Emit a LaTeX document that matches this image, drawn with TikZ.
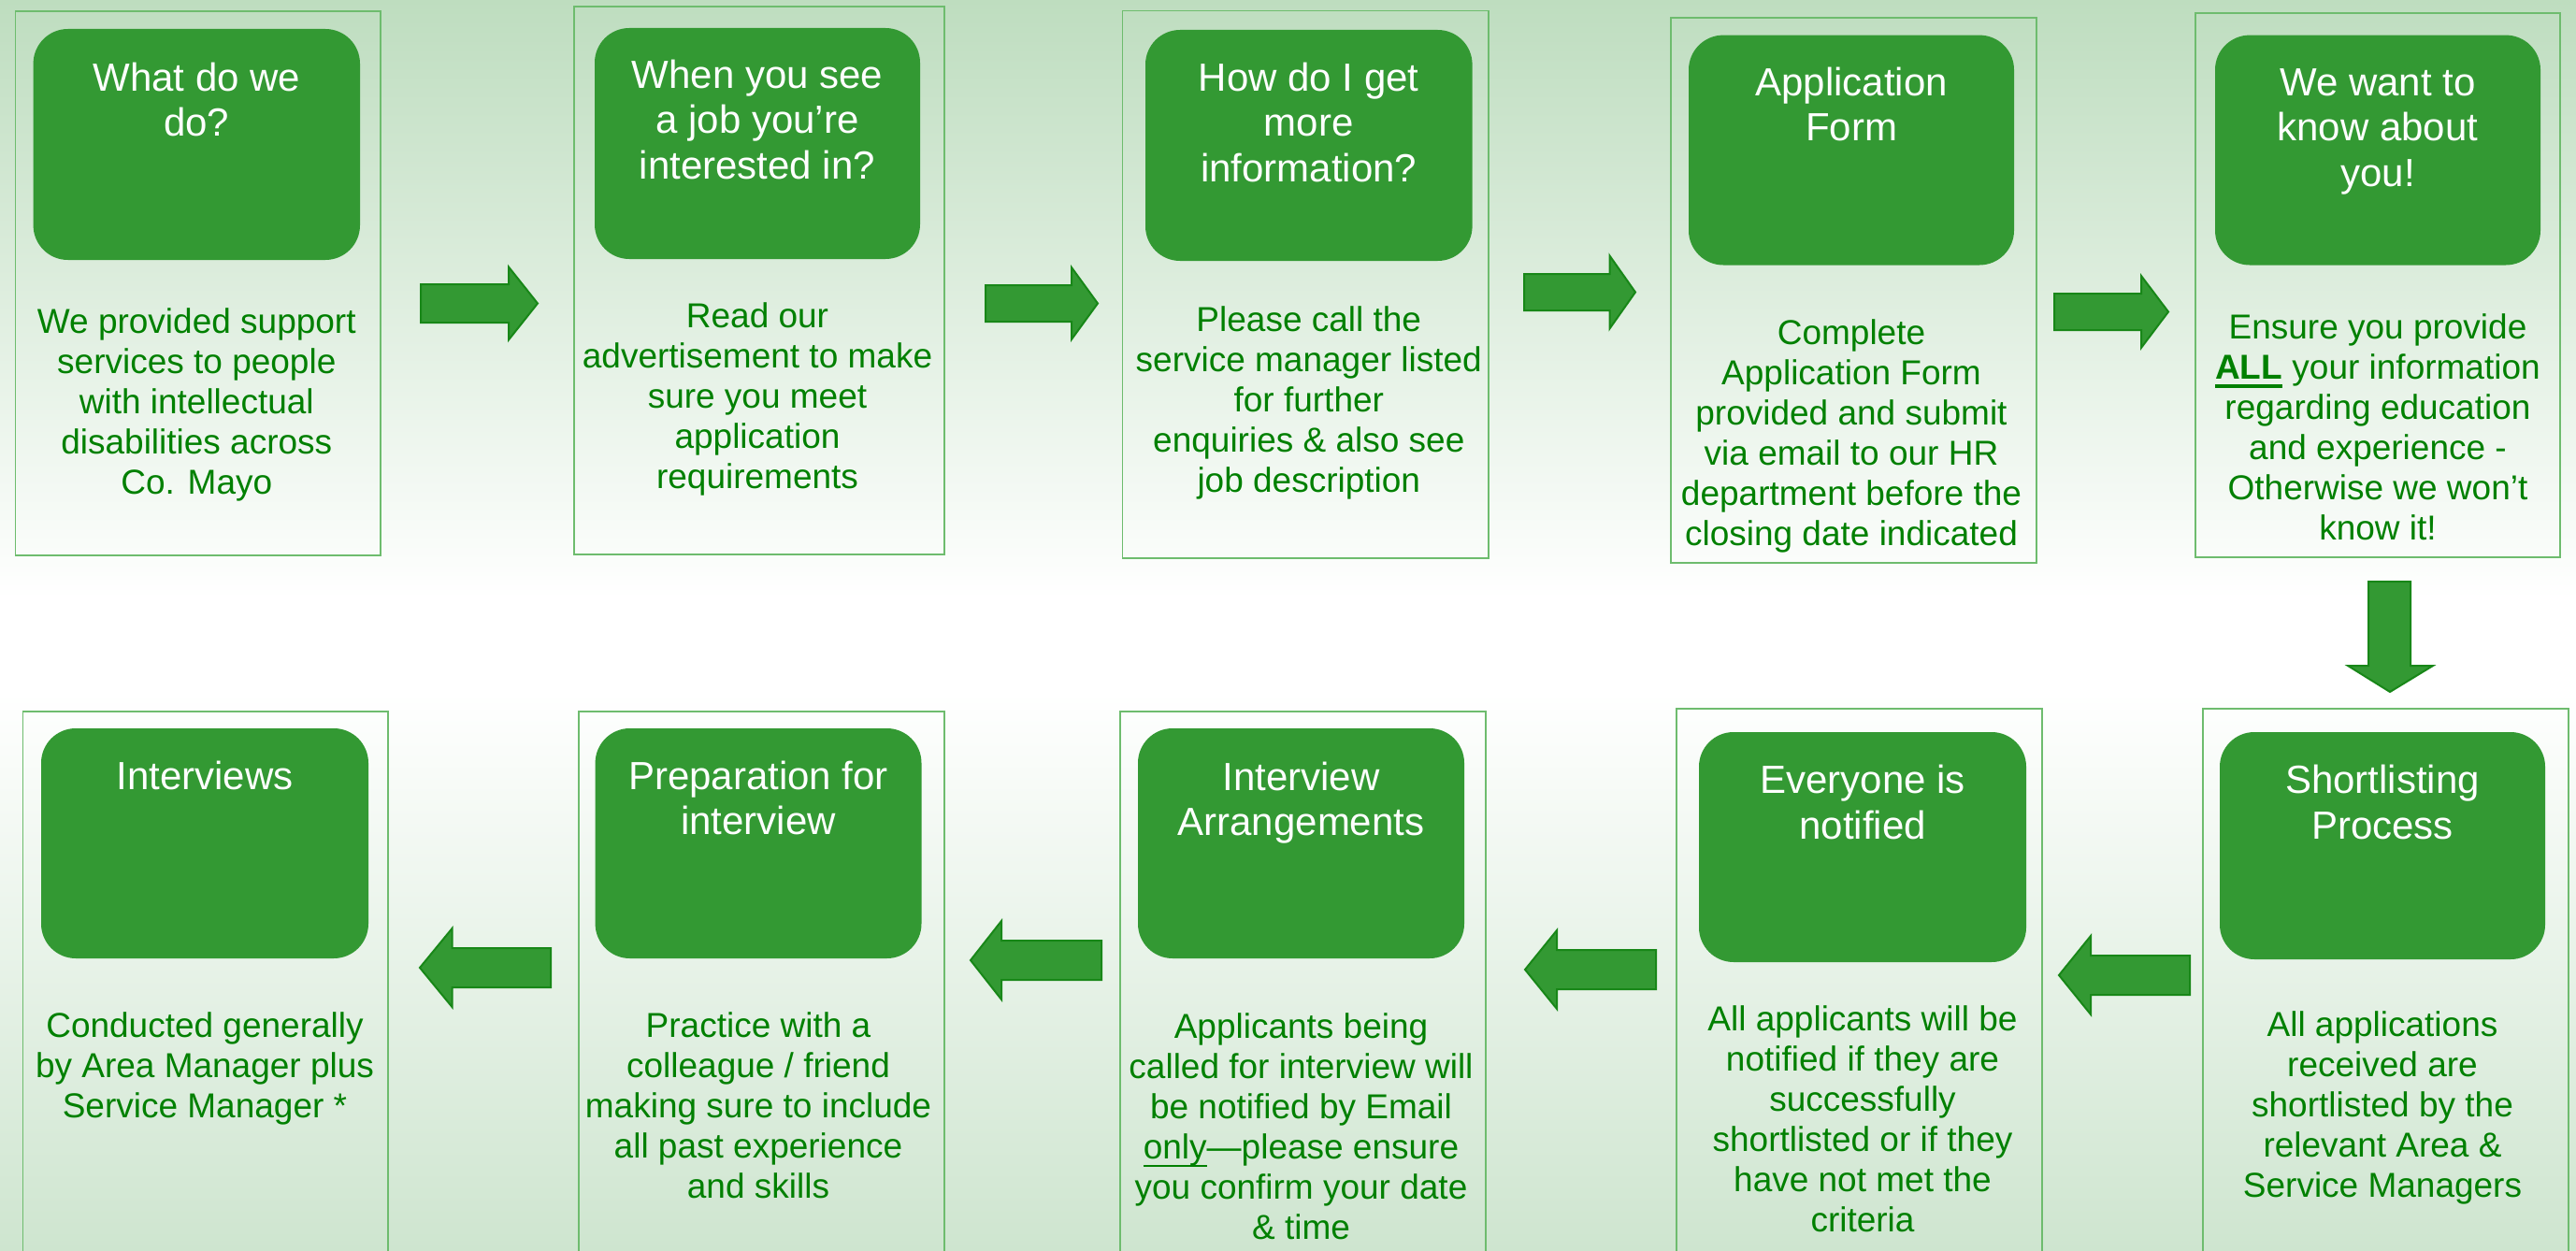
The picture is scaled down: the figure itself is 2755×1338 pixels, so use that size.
\documentclass[tikz,border=0pt]{standalone}
\usepackage{fontspec}
\setmainfont{Liberation Sans}
\definecolor{bgtop}{RGB}{190,221,191}
\definecolor{bgbot}{RGB}{206,229,207}
\definecolor{cardfill}{RGB}{51,153,51}
\definecolor{cardline}{RGB}{110,188,110}
\definecolor{bodygreen}{RGB}{0,128,0}
\definecolor{arrowline}{RGB}{24,135,24}
\newsavebox\ulbox
\newcommand\myul[3]{\sbox\ulbox{#1}\rlap{\rule[#2]{\wd\ulbox}{#3}}\usebox\ulbox}
\newcommand\card[9]{%
  \node[outerbox, minimum width={#4-#2}, minimum height={#5-#3}] (#1) at ({(#2+#4)/2},{(#3+#5)/2}) {};
  \node[innerbox, minimum width={#8-#6}, minimum height={#9-#7}] (#1i) at ({(#6+#8)/2},{(#7+#9)/2}) {};}
\newcommand\harrow[6]{\draw[barrow] (#1,#4-#5) -- (#2,#4-#5) -- (#2,#4-#6) -- (#3,#4) -- (#2,#4+#6) -- (#2,#4+#5) -- (#1,#4+#5) -- cycle;}
\tikzset{
  outerbox/.style={draw=cardline, line width=1.4pt, fill=none, inner sep=0pt, rectangle},
  innerbox/.style={fill=cardfill, draw=none, rounded corners=37pt, inner sep=0pt, rectangle},
  titletext/.style={text=white, align=center, inner sep=0pt, anchor=north, font=\fontsize{42}{48.6}\selectfont},
  bodytext/.style={text=bodygreen, align=center, inner sep=0pt, anchor=north, font=\fontsize{37}{43}\selectfont},
  barrow/.style={fill=cardfill, draw=arrowline, line width=2pt, line join=miter},
}
\begin{document}
\begin{tikzpicture}[x=1pt, y=-1pt]
\useasboundingbox (0,0) rectangle (2755,1338);
\clip (0,0) rectangle (2755,1338);
% background
\fill[white] (0,0) rectangle (2755,1338);
\shade[top color=bgtop, bottom color=white] (0,0) rectangle (2755,640);
\shade[top color=white, bottom color=bgbot] (0,740) rectangle (2755,1338);
% top row cards
\card{c1}{16.6}{12}{407}{594}{35.6}{31}{385}{278}
\card{c2}{614}{7}{1010}{593}{636}{30}{984}{277}
\card{c3}{1200.5}{11.5}{1592}{597}{1225}{32}{1574.6}{279}
\card{c4}{1787}{19}{2178}{602}{1806}{37.6}{2154}{283.5}
\card{c5}{2348}{14}{2738}{596}{2369}{37.6}{2717}{283.5}
% bottom row cards
\card{c6}{24.5}{761}{415}{1345}{44}{779}{394}{1025}
\card{c7}{619}{761}{1010}{1345}{636.6}{779}{985.5}{1025}
\card{c8}{1198}{761}{1589}{1345}{1217}{779}{1566}{1025}
\card{c9}{1793}{758}{2184}{1345}{1817}{783}{2167}{1029}
\card{c10}{2356}{758}{2747}{1345}{2374}{783}{2722}{1026}
% titles
\node[titletext] (t1) at (210.3,63) {\strut What do we\\do?};
\node[titletext] (t2) at (810,60) {\strut When you see\\a job you’re\\interested in?};
\node[titletext] (t3) at (1399.8,63) {\strut How do I get\\more\\information?};
\node[titletext] (t4) at (1980,68) {\strut Application\\Form};
\node[titletext] (t5) at (2543,68) {\strut We want to\\know about\\you!};
\node[titletext] (t6) at (219,810) {\strut Interviews};
\node[titletext] (t7) at (811,810) {\strut Preparation for\\interview};
\node[titletext] (t8) at (1391.5,811) {\strut Interview\\Arrangements};
\node[titletext] (t9) at (1992,814.5) {\strut Everyone is\\notified};
\node[titletext] (t10) at (2548,814.5) {\strut Shortlisting\\Process};
% bodies
\node[bodytext] (b1) at (210.3,326) {\strut We provided support\\services to people\\with intellectual\\disabilities across\\Co. Mayo};
\node[bodytext] (b2) at (810,320) {\strut Read our\\advertisement to make\\sure you meet\\application\\requirements};
\node[bodytext] (b3) at (1399.8,324) {\strut Please call the\\service manager listed\\for further\\enquiries \& also see\\job description};
\node[bodytext] (b4) at (1980,338) {\strut Complete\\Application Form\\provided and submit\\via email to our HR\\department before the\\closing date indicated};
\node[bodytext] (b5) at (2543,332) {\strut Ensure you provide\\\myul{\textbf{ALL}}{-9.5pt}{3.5pt} your information\\regarding education\\and experience -\\Otherwise we won’t\\know it!};
\node[bodytext] (b6) at (219,1079) {\strut Conducted generally\\by Area Manager plus\\Service Manager *};
\node[bodytext] (b7) at (811,1079) {\strut Practice with a\\colleague / friend\\making sure to include\\all past experience\\and skills};
\node[bodytext] (b8) at (1391.5,1080) {\strut Applicants being\\called for interview will\\be notified by Email\\\myul{only}{-8.5pt}{2pt}—please ensure\\you confirm your date\\\& time};
\node[bodytext] (b9) at (1992,1072.5) {\strut All applicants will be\\notified if they are\\successfully\\shortlisted or if they\\have not met the\\criteria};
\node[bodytext] (b10) at (2548,1078) {\strut All applications\\received are\\shortlisted by the\\relevant Area \&\\Service Managers};
% block arrows, top row (rightwards)
\harrow{450}{544}{575}{324.5}{20.5}{39}
\harrow{1054}{1146}{1174}{324.5}{19.5}{38.5}
\harrow{1630}{1721.5}{1749}{312.5}{19.5}{39}
\harrow{2197}{2290}{2319}{333.5}{19.5}{38.5}
% down arrow
\draw[barrow] (2533,622) -- (2578,622) -- (2578,712) -- (2602,712) -- (2556,740) -- (2511,712) -- (2533,712) -- cycle;
% bottom row (leftwards)
\harrow{2342}{2236}{2202}{1043}{21}{42}
\harrow{1771}{1665}{1631}{1037}{21}{42}
\harrow{1178}{1071}{1038}{1027}{21}{42}
\harrow{589}{483.5}{449}{1035}{21}{42}
\end{tikzpicture}
\end{document}
